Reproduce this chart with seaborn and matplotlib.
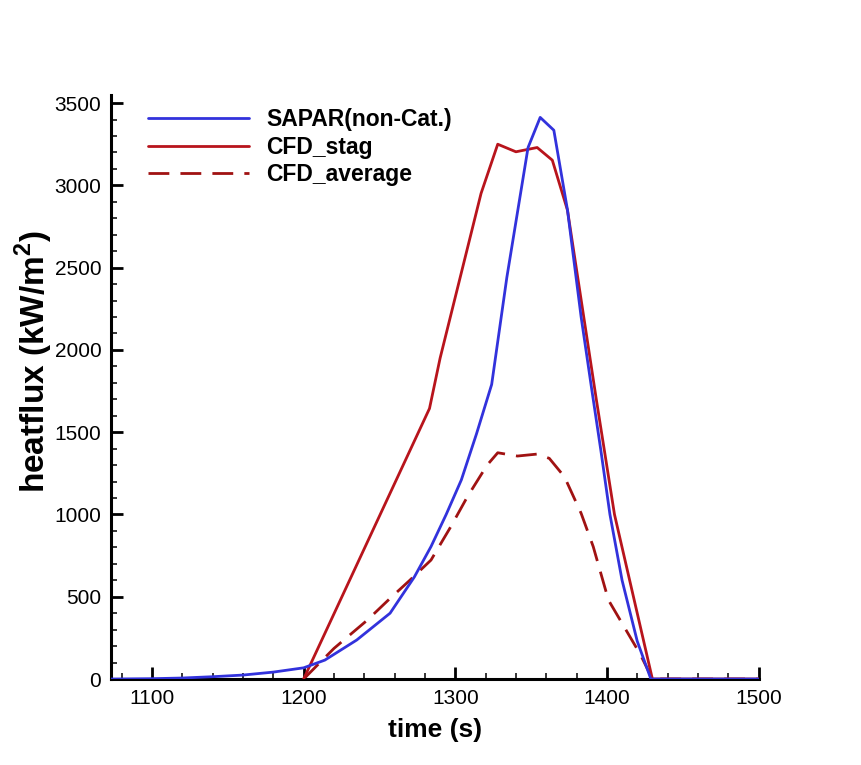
import seaborn as sns
import matplotlib.pyplot as plt
import pandas as pd
import numpy as np
from matplotlib.ticker import MultipleLocator

# SAPAR (non catalytic) heat flux
sapar_time = [1073, 1100, 1120, 1140, 1160, 1180, 1200, 1214, 1235, 1257, 1273, 1284,
              1294, 1304, 1314, 1324, 1334, 1348, 1356, 1365, 1374, 1383, 1390, 1396,
              1402, 1410, 1420, 1429, 1500]
sapar_flux = [0, 2, 6, 14, 24, 42, 68, 115, 237, 400, 620, 805,
              1000, 1210, 1490, 1790, 2440, 3230, 3413, 3335, 2850, 2200, 1760, 1390,
              1000, 600, 230, 0, 0]

# CFD stagnation point
stag_time = [1200, 1283, 1290, 1317, 1328, 1340, 1354, 1364, 1374, 1393, 1405, 1430, 1500]
stag_flux = [0, 1644, 1950, 2951, 3250, 3204, 3230, 3153, 2849, 1700, 1000, 0, 0]

# CFD averaged
avg_time = [1200, 1220, 1242, 1257, 1270, 1284, 1297, 1308, 1321, 1328, 1341, 1354,
            1362, 1372, 1383, 1391, 1401, 1422, 1430, 1500]
avg_flux = [0, 186, 358, 490, 600, 723, 925, 1108, 1300, 1375, 1355, 1367,
            1341, 1229, 1007, 804, 480, 150, 0, 0]

labels = ['SAPAR(non-Cat.)', 'CFD_stag', 'CFD_average']
colors = ['#3232dc', '#b8141c', '#a01212']


def main():
    sns.set_theme(style="ticks")
    plt.rcParams['font.family'] = ['Liberation Sans', 'DejaVu Sans']
    plt.rcParams['text.color'] = 'black'
    plt.rcParams['axes.labelcolor'] = 'black'
    plt.rcParams['mathtext.fontset'] = 'custom'
    plt.rcParams['mathtext.bf'] = 'Liberation Sans:bold'

    fig = plt.figure(figsize=(8.61, 7.65), dpi=100)
    ax = fig.add_axes([0.129, 0.1124, 0.752, 0.7636])

    df_sapar = pd.DataFrame({'time': sapar_time, 'flux': sapar_flux})
    df_stag = pd.DataFrame({'time': stag_time, 'flux': stag_flux})
    df_avg = pd.DataFrame({'time': avg_time, 'flux': avg_flux})

    sns.lineplot(data=df_sapar, x='time', y='flux', color=colors[0], linewidth=2.0,
                 label=labels[0], estimator=None, ax=ax, zorder=4)
    sns.lineplot(data=df_stag, x='time', y='flux', color=colors[1], linewidth=2.0,
                 label=labels[1], estimator=None, ax=ax, zorder=3)
    sns.lineplot(data=df_avg, x='time', y='flux', color=colors[2], linewidth=2.0,
                 label=labels[2], estimator=None, ax=ax, zorder=2)
    ax.lines[2].set_dashes((7.5, 4))

    ax.set_xlim(1073, 1500)
    ax.set_ylim(0, 3550)
    ax.xaxis.set_major_locator(MultipleLocator(100))
    ax.xaxis.set_minor_locator(MultipleLocator(20))
    ax.yaxis.set_major_locator(MultipleLocator(500))
    ax.yaxis.set_minor_locator(MultipleLocator(100))

    for side in ['top', 'right']:
        ax.spines[side].set_visible(False)
    for side in ['left', 'bottom']:
        ax.spines[side].set_linewidth(2.2)
        ax.spines[side].set_color('black')

    ax.tick_params(which='major', direction='in', length=8.6, width=2, labelsize=15,
                   colors='black', pad=7)
    ax.tick_params(which='minor', direction='in', length=4.3, width=1.1, colors='black')

    ax.set_xlabel('time (s)', fontsize=19, fontweight='bold')
    ax.set_ylabel(r'heatflux (kW/m$^\mathbf{2}$)', fontsize=24, fontweight='bold')
    ax.xaxis.set_label_coords(0.5, -0.067)
    ax.yaxis.set_label_coords(-0.087, 0.543)

    ax.legend(loc='upper left', bbox_to_anchor=(0.057, 0.977), frameon=False,
              borderaxespad=0, borderpad=0, handlelength=4.4, handletextpad=0.75,
              labelspacing=0.2, prop={'weight': 'bold', 'size': 16.5})

    fig.savefig('out.png', dpi=100)


if __name__ == "__main__":
    main()
